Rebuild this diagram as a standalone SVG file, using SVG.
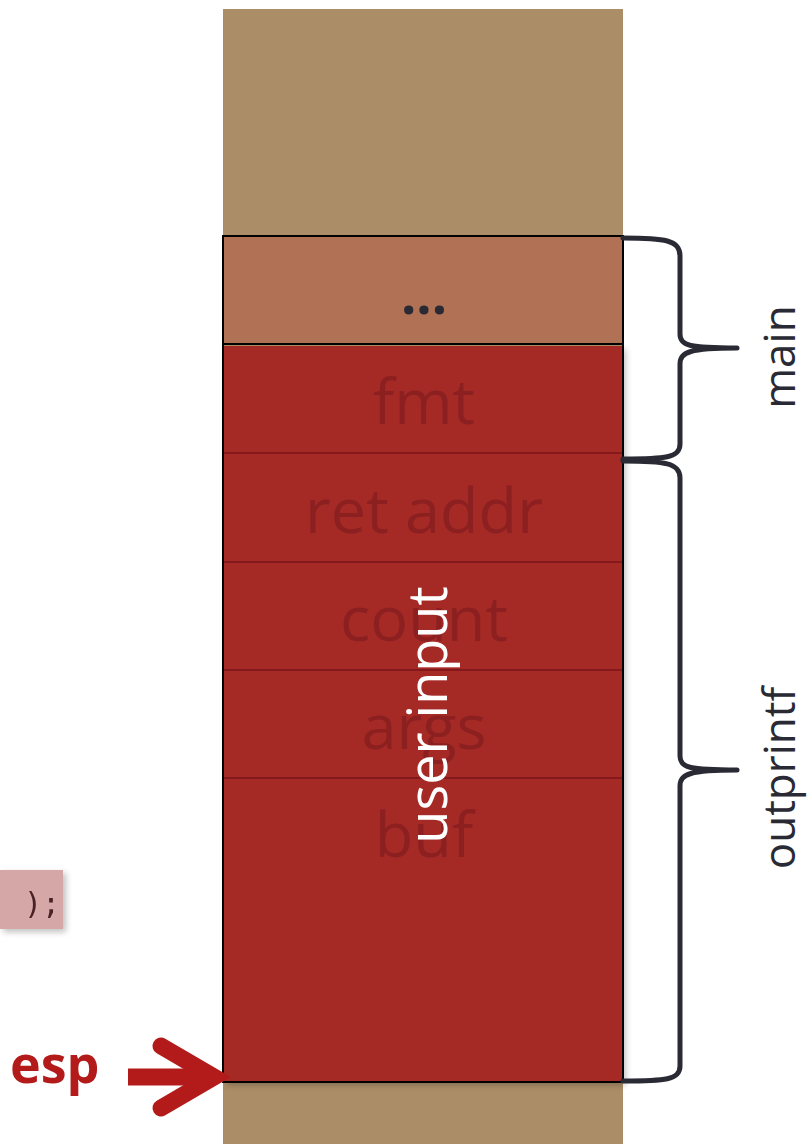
<svg xmlns="http://www.w3.org/2000/svg" width="807" height="1144" viewBox="0 0 807 1144">
  <defs>
    <filter id="shadow" x="-10%" y="-10%" width="130%" height="130%">
      <feGaussianBlur in="SourceAlpha" stdDeviation="3"/>
      <feOffset dx="3" dy="3"/>
      <feComponentTransfer><feFuncA type="linear" slope="0.25"/></feComponentTransfer>
      <feMerge><feMergeNode/><feMergeNode in="SourceGraphic"/></feMerge>
    </filter>
  </defs>
  <style>
    .slot { fill: #a52a25; }
    .divider { stroke: #85181a; stroke-width: 2; }
    .slotlabel { font-family: "Open Sans", Lato, sans-serif; font-size: 63px; fill: #8c2020; text-anchor: middle; }
    .brace { fill: none; stroke: #2a2a35; stroke-width: 5; stroke-linejoin: round; stroke-linecap: round; }
    .framelabel { font-family: "Open Sans", Lato, sans-serif; font-size: 44px; fill: #2a2a35; text-anchor: middle; }
  </style>

  <rect width="807" height="1144" fill="#ffffff"/>

  <!-- stack column -->
  <rect id="stack-bg" x="223" y="9" width="400" height="1135" fill="#ab8e68"/>

  <g id="main-frame-rest">
    <rect x="223" y="236" width="400" height="108" fill="#b07155" stroke="#000" stroke-width="2"/>
    <text x="424" y="314" font-family="'Open Sans', sans-serif" font-size="54" font-weight="bold" fill="#2a2a35" text-anchor="middle">...</text>
  </g>

  <g id="overwritten" filter="url(#shadow)">
    <rect class="slot" x="223" y="346" width="400" height="736"/>
  </g>
  <rect x="223" y="236" width="400" height="846" fill="none" stroke="#000" stroke-width="2"/>

  <g id="slots">
    <line class="divider" x1="224" y1="453" x2="622" y2="453"/>
    <line class="divider" x1="224" y1="562" x2="622" y2="562"/>
    <line class="divider" x1="224" y1="670" x2="622" y2="670"/>
    <line class="divider" x1="224" y1="778" x2="622" y2="778"/>
    <g id="slot-fmt"><text class="slotlabel" x="424" y="424">fmt</text></g>
    <g id="slot-ret"><text class="slotlabel" x="424" y="533">ret addr</text></g>
    <g id="slot-count"><text class="slotlabel" x="424" y="641">count</text></g>
    <g id="slot-args"><text class="slotlabel" x="424" y="749">args</text></g>
    <g id="slot-buf"><text class="slotlabel" x="424" y="857">buf</text></g>
  </g>

  <g id="user-input">
    <text x="0" y="0" transform="translate(447,715) rotate(-90)" font-family="'Open Sans', Lato, sans-serif" font-size="54" fill="#ffffff" text-anchor="middle">user input</text>
  </g>

  <!-- frame braces -->
  <g id="braces">
    <path class="brace" d="M623,238 C665,238 680,240 680,256 L680,334 C680,346 690,348 737,348 C690,348 680,352 680,364 L680,444 C680,458 665,459 623,459"/>
    <path class="brace" d="M623,461 C665,461 680,463 680,478 L680,756 C680,768 690,770 737,770 C690,770 680,774 680,786 L680,1066 C680,1080 665,1081 623,1081"/>
  </g>
  <g id="label-main">
    <text class="framelabel" transform="translate(795,357) rotate(-90)">main</text>
  </g>
  <g id="label-outprintf">
    <text class="framelabel" transform="translate(795,778) rotate(-90)">outprintf</text>
  </g>

  <!-- code fragment -->
  <g id="code" filter="url(#shadow)">
    <rect x="0" y="870" width="63" height="59" fill="#d6a7a7"/>
    <text x="60" y="914" font-family="'DejaVu Sans Mono', monospace" font-size="30" fill="#4a2228" text-anchor="end">);</text>
  </g>

  <!-- stack pointer -->
  <g id="esp">
    <text x="10" y="1083" font-family="'Open Sans', Lato, sans-serif" font-size="52" font-weight="bold" fill="#b31b1b">esp</text>
    <path d="M128,1077 L205,1077" stroke="#b31b1b" stroke-width="17" fill="none"/>
    <path d="M161,1046 L214,1077 L161,1108" stroke="#b31b1b" stroke-width="17" fill="none" stroke-linecap="round" stroke-linejoin="miter"/>
  </g>
</svg>
